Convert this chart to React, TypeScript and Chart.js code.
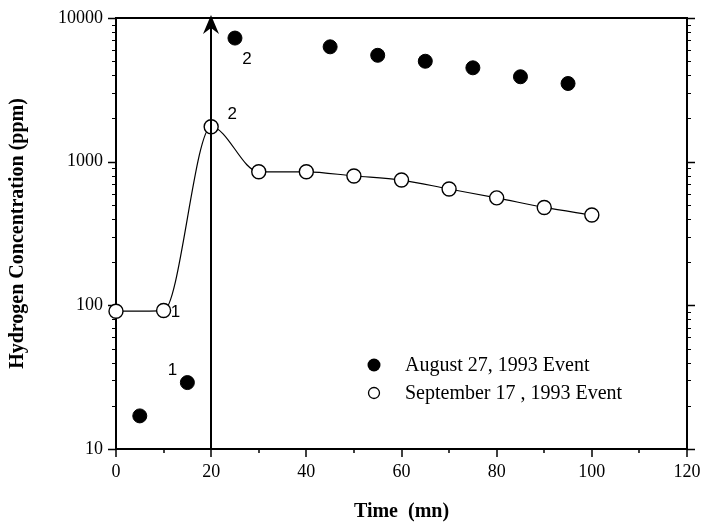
import React, { useEffect, useRef } from "react";
import { Chart, registerables } from "chart.js";

Chart.register(...registerables);

// Hydrogen concentration (ppm) against time (minutes) for two events
const augTimes = [5, 15, 25, 45, 55, 65, 75, 85, 95];
const augH2 = [17, 29, 7250, 6300, 5500, 5000, 4500, 3900, 3500];

const sepTimes = [0, 10, 20, 30, 40, 50, 60, 70, 80, 90, 100];
const sepH2 = [91, 92, 1750, 850, 850, 795, 745, 645, 560, 480, 425];

const yDecades = [10, 100, 1000, 10000];
const xMin = 0;
const xMax = 120;
const xStep = 10;
const xLabelStep = 20;
const eventTime = 20;

const augLabel = "August 27, 1993 Event";
const sepLabel = "September 17 , 1993 Event";
const xTitle = "Time  (mn)";
const yTitle = "Hydrogen Concentration (ppm)";

// phase numbers written beside some points
const augPhases = [
  { index: 1, text: "1" },
  { index: 2, text: "2" },
];
const sepPhases = [
  { index: 1, text: "1" },
  { index: 2, text: "2" },
];

const SERIF = "'Liberation Serif', 'Times New Roman', serif";
const SANS = "'Liberation Sans', Arial, sans-serif";

const toXY = (xs: number[], ys: number[]) => xs.map((x, i) => ({ x, y: ys[i] }));

const framePlugin = {
  id: "frameAndNotes",
  beforeDatasetsDraw(chart: any) {
    const { ctx, chartArea: a, scales } = chart;
    const x = scales.x;
    const y = scales.y;
    ctx.save();
    ctx.strokeStyle = "#000";
    ctx.lineCap = "butt";

    // frame
    ctx.lineWidth = 2;
    ctx.strokeRect(a.left, a.top, a.right - a.left, a.bottom - a.top);

    // x ticks below the axis
    ctx.lineWidth = 1.5;
    for (let v = xMin; v <= xMax; v += xStep) {
      const px = Math.round(x.getPixelForValue(v));
      const len = v % xLabelStep === 0 ? 8 : 4;
      ctx.beginPath();
      ctx.moveTo(px, a.bottom);
      ctx.lineTo(px, a.bottom + len);
      ctx.stroke();
    }

    // log ticks on left and right sides, pointing outward
    const tick = (val: number, len: number) => {
      const py = Math.round(y.getPixelForValue(val)) + 0.5;
      ctx.beginPath();
      ctx.moveTo(a.left - len, py);
      ctx.lineTo(a.left, py);
      ctx.moveTo(a.right, py);
      ctx.lineTo(a.right + len, py);
      ctx.stroke();
    };
    yDecades.forEach((d, i) => {
      ctx.lineWidth = 1.5;
      tick(d, 8);
      if (i < yDecades.length - 1) {
        ctx.lineWidth = 1.2;
        for (let k = 2; k <= 9; k++) tick(d * k, 4);
      }
    });
    ctx.restore();
  },
  afterDatasetsDraw(chart: any) {
    const { ctx, chartArea: a, scales } = chart;
    const x = scales.x;
    const y = scales.y;
    ctx.save();
    ctx.fillStyle = "#000";
    ctx.strokeStyle = "#000";

    // event arrow
    const ex = Math.round(x.getPixelForValue(eventTime));
    const tipY = a.top - 3;
    ctx.lineWidth = 2;
    ctx.beginPath();
    ctx.moveTo(ex, a.bottom);
    ctx.lineTo(ex, tipY + 6);
    ctx.stroke();
    ctx.beginPath();
    ctx.moveTo(ex, tipY);
    ctx.lineTo(ex + 8, tipY + 19);
    ctx.lineTo(ex, tipY + 13);
    ctx.lineTo(ex - 8, tipY + 19);
    ctx.closePath();
    ctx.fill();

    // phase numbers
    ctx.font = `17px ${SANS}`;
    ctx.textAlign = "center";
    ctx.textBaseline = "middle";
    const augOffsets: Record<string, [number, number]> = { "1": [-15, -12], "2": [12, 21] };
    const sepOffsets: Record<string, [number, number]> = { "1": [12, 2], "2": [21, -12] };
    augPhases.forEach((p) => {
      const [dx, dy] = augOffsets[p.text];
      ctx.fillText(p.text, x.getPixelForValue(augTimes[p.index]) + dx, y.getPixelForValue(augH2[p.index]) + dy);
    });
    sepPhases.forEach((p) => {
      const [dx, dy] = sepOffsets[p.text];
      ctx.fillText(p.text, x.getPixelForValue(sepTimes[p.index]) + dx, y.getPixelForValue(sepH2[p.index]) + dy);
    });

    // legend
    const lx = 374;
    const ly1 = 365;
    const ly2 = 393;
    ctx.beginPath();
    ctx.arc(lx, ly1, 6.5, 0, Math.PI * 2);
    ctx.fill();
    ctx.beginPath();
    ctx.arc(lx, ly2, 5.5, 0, Math.PI * 2);
    ctx.fillStyle = "#fff";
    ctx.fill();
    ctx.lineWidth = 1.3;
    ctx.stroke();
    ctx.fillStyle = "#000";
    ctx.font = `20px ${SERIF}`;
    ctx.textAlign = "left";
    ctx.textBaseline = "middle";
    ctx.fillText(augLabel, 405, ly1 + 1);
    ctx.fillText(sepLabel, 405, ly2 + 1);
    ctx.restore();
  },
};

export default function App() {
  const canvasRef = useRef<HTMLCanvasElement | null>(null);

  useEffect(() => {
    if (!canvasRef.current) return;
    const chart = new Chart(canvasRef.current, {
      type: "scatter",
      data: {
        datasets: [
          {
            label: augLabel,
            data: toXY(augTimes, augH2),
            showLine: false,
            pointRadius: 7,
            pointBorderWidth: 1,
            pointBackgroundColor: "#000",
            pointBorderColor: "#000",
            clip: false,
          },
          {
            label: sepLabel,
            data: toXY(sepTimes, sepH2),
            showLine: true,
            borderColor: "#000",
            borderWidth: 1.2,
            cubicInterpolationMode: "monotone",
            pointRadius: 7,
            pointBorderWidth: 1.4,
            pointBackgroundColor: "#fff",
            pointBorderColor: "#000",
            clip: false,
          },
        ],
      },
      options: {
        animation: false,
        responsive: true,
        maintainAspectRatio: false,
        layout: { padding: { top: 18, right: 17, left: 0, bottom: 0 } },
        plugins: {
          legend: { display: false },
          tooltip: { enabled: false },
        },
        scales: {
          x: {
            type: "linear",
            min: xMin,
            max: xMax,
            afterFit: (s: any) => {
              s.height = 75;
              s.paddingLeft = 0;
              s.paddingRight = 0;
            },
            grid: { display: false, drawTicks: false },
            border: { display: false },
            ticks: {
              stepSize: xStep,
              autoSkip: false,
              maxRotation: 0,
              padding: 12,
              color: "#000",
              font: { family: SERIF, size: 18 },
              callback: (v: any) => (Number(v) % xLabelStep === 0 ? String(v) : ""),
            },
            title: {
              display: true,
              text: xTitle,
              color: "#000",
              font: { family: SERIF, size: 20, weight: "bold" },
              padding: { top: 0, bottom: 0 },
            },
          },
          y: {
            type: "logarithmic",
            min: yDecades[0],
            max: yDecades[yDecades.length - 1],
            afterFit: (s: any) => {
              s.width = 116;
              s.paddingTop = 0;
              s.paddingBottom = 0;
            },
            afterBuildTicks: (s: any) => {
              s.ticks = yDecades.map((v) => ({ value: v }));
            },
            grid: { display: false, drawTicks: false },
            border: { display: false },
            ticks: {
              autoSkip: false,
              padding: 13,
              color: "#000",
              font: { family: SERIF, size: 18 },
              callback: (v: any) => String(v),
            },
            title: {
              display: true,
              text: yTitle,
              color: "#000",
              font: { family: SERIF, size: 20, weight: "bold" },
              padding: { top: 6, bottom: 0 },
            },
          },
        },
      },
      plugins: [framePlugin],
    });
    return () => chart.destroy();
  }, []);

  return (
    <div style={{ position: "fixed", left: 0, top: 0, width: 704, height: 524, background: "#fff" }}>
      <canvas ref={canvasRef} />
    </div>
  );
}
